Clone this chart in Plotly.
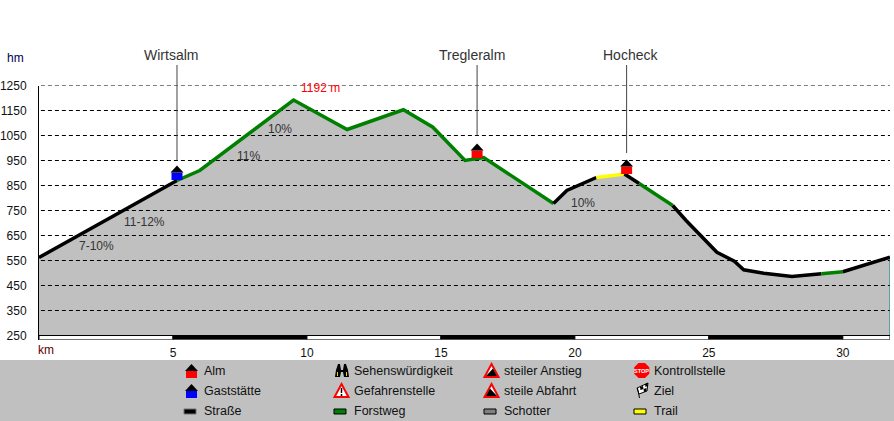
import plotly.graph_objects as go

W, H = 894, 421

# hoehenprofil
km = [0, 5.15, 6.0, 9.5, 11.5, 13.6, 14.7, 15.9, 16.6, 19.2, 19.7, 20.8, 21.85,
      22.4, 23.65, 24.15, 25.3, 25.95, 26.3, 27.05, 28.1, 29.2, 30.0, 31.76]
elev = [562, 870, 910, 1192, 1074, 1153, 1083, 950, 962, 778, 830, 882, 896,
        858, 770, 710, 583, 547, 513, 499, 486, 497, 505, 563]

# belag: von index, bis index, art
surface_from = [0, 1, 9, 11, 12, 13, 14, 21, 22]
surface_to = [1, 9, 11, 12, 13, 14, 21, 22, 23]
surface_kind = ["Straße", "Forstweg", "Straße", "Trail", "Straße", "Forstweg", "Straße", "Forstweg", "Straße"]
surface_colors = {"Straße": "#000000", "Forstweg": "#008000", "Schotter": "#808080", "Trail": "#FFFF00"}

y_ticks = [250, 350, 450, 550, 650, 750, 850, 950, 1050, 1150, 1250]
x_ticks = [5, 10, 15, 20, 25, 30]
band_edges = [0, 5, 10, 15, 20, 25, 30, 31.76]

hut_names = ["Wirtsalm", "Tregleralm", "Hocheck"]
hut_km = [5.15, 16.35, 21.93]
hut_elev = [872, 960, 896]
hut_colors = ["#0000FF", "#FF0000", "#FF0000"]

grade_labels = ["7-10%", "11-12%", "11%", "10%", "10%"]
grade_km = [2.15, 3.95, 7.8, 9.0, 20.3]
grade_elev = [610, 706, 970, 1078, 782]

legend_col1 = ["Alm", "Gaststätte", "Straße"]
legend_col2 = ["Sehenswürdigkeit", "Gefahrenstelle", "Forstweg"]
legend_col3 = ["steiler Anstieg", "steile Abfahrt", "Schotter"]
legend_col4 = ["Kontrollstelle", "Ziel", "Trail"]


def px(x):
    return x / W


def py(y):
    return 1 - y / H


def poly(points):
    return "M " + " L ".join(f"{px(x):.5f} {py(y):.5f}" for x, y in points) + " Z"


def icon(points, fill, line=None, width=1):
    return dict(type="path", xref="paper", yref="paper", path=poly(points), fillcolor=fill,
                line=dict(color=line or fill, width=width if line else 0), layer="above")


fig = go.Figure()

# flaeche
fig.add_trace(go.Scatter(x=km, y=elev, mode="lines", fill="tozeroy", fillcolor="#C0C0C0",
                         line=dict(width=0), hoverinfo="skip", showlegend=False))

# gitterlinien
gx, gy = [], []
for v in y_ticks[1:]:
    gx += [-0.19, km[-1], None]
    gy += [v, v, None]
fig.add_trace(go.Scatter(x=gx, y=gy, mode="lines", cliponaxis=False, showlegend=False, hoverinfo="skip",
                         line=dict(color="#000000", width=1, dash="4px,3px")))

# rechter rand
fig.add_trace(go.Scatter(x=[km[-1], km[-1]], y=[y_ticks[0], elev[-1]], mode="lines", showlegend=False,
                         hoverinfo="skip", line=dict(color="#008080", width=1)))

for a, b, kind in zip(surface_from, surface_to, surface_kind):
    fig.add_trace(go.Scatter(x=km[a:b + 1], y=elev[a:b + 1], mode="lines", showlegend=False, hoverinfo="skip",
                             line=dict(color=surface_colors[kind], width=3.5, shape="linear")))

shapes = []

# km balken
for i in range(len(band_edges) - 1):
    shapes.append(dict(type="rect", xref="x", yref="y", x0=band_edges[i], x1=band_edges[i + 1],
                       y0=234, y1=y_ticks[0], fillcolor="#000000" if i % 2 else "#FFFFFF",
                       line=dict(color="#000000", width=1), layer="above"))

# huetten + linien
leader_top = [65, 65, 65]
leader_bottom = [950, 1050, 980]
for i, name in enumerate(hut_names):
    shapes.append(dict(type="path", xref="x", yref="y", xsizemode="pixel", ysizemode="pixel",
                       xanchor=hut_km[i], yanchor=hut_elev[i],
                       path="M -5.5 0 L 5.5 0 L 5.5 7.5 L -5.5 7.5 Z", fillcolor=hut_colors[i],
                       line=dict(width=0), layer="above"))
    shapes.append(dict(type="path", xref="x", yref="y", xsizemode="pixel", ysizemode="pixel",
                       xanchor=hut_km[i], yanchor=hut_elev[i],
                       path="M -6.5 7.5 L 6.5 7.5 L 0 14.5 Z", fillcolor="#000000",
                       line=dict(width=0), layer="above"))
    shapes.append(dict(type="line", xref="x", yref="paper", x0=hut_km[i], x1=hut_km[i],
                       y0=(leader_bottom[i] - 234) / (1250 - 234) * (254 / H) + (1 - 339.5 / H),
                       y1=py(leader_top[i]), line=dict(color="#444444", width=1), layer="above"))

# legende hintergrund
shapes.append(dict(type="rect", xref="paper", yref="paper", x0=0, x1=1, y0=0, y1=py(360),
                   fillcolor="#C0C0C0", line=dict(width=0), layer="below"))

# legende symbole
for row, col in ((371, "#FF0000"), (391, "#0000FF")):
    shapes.append(icon([(186, row), (197, row), (197, row + 7), (186, row + 7)], col))
    shapes.append(icon([(185, row), (191.5, row - 7), (198, row)], "#000000"))

for x0, kind, y0 in ((184, "Straße", 409), (334, "Forstweg", 409), (484, "Schotter", 409), (634, "Trail", 409)):
    edge = "#707070" if kind == "Straße" else "#000000"
    shapes.append(icon([(x0, y0), (x0 + 12, y0), (x0 + 12, y0 + 5), (x0, y0 + 5)],
                       surface_colors[kind], edge, 1))

# fernglas
shapes.append(icon([(335, 377), (336, 370), (338, 364), (340, 364), (341, 370), (343, 370), (344, 364), (346, 364),
                    (348, 370), (349, 377), (344, 377), (343, 372), (341, 372), (340, 377)], "#000000"))
shapes.append(icon([(337, 372), (338, 372), (338, 376), (337, 376)], "#E8D800"))
shapes.append(icon([(346, 372), (347, 372), (347, 376), (346, 376)], "#E8D800"))

# gefahrenstelle
shapes.append(icon([(341.5, 384), (348.5, 397), (334.5, 397)], "#FFFFFF", "#FF0000", 2))
shapes.append(icon([(340.7, 388), (342.3, 388), (342.2, 393), (340.8, 393)], "#000000"))
shapes.append(icon([(340.7, 394), (342.3, 394), (342.3, 396), (340.7, 396)], "#000000"))

# anstieg / abfahrt
shapes.append(icon([(491.5, 364), (498.5, 377), (484.5, 377)], "#FFFFFF", "#FF0000", 2))
shapes.append(icon([(493, 368.5), (497, 376), (486, 376)], "#000000"))
shapes.append(icon([(491.5, 384), (498.5, 397), (484.5, 397)], "#FFFFFF", "#FF0000", 2))
shapes.append(icon([(490, 388.5), (497, 396), (486, 396)], "#000000"))

# stop
shapes.append(icon([(638.5, 363), (645, 363), (649.3, 367.3), (649.3, 373.7), (645, 378), (638.5, 378),
                    (634.2, 373.7), (634.2, 367.3)], "#FF0000"))

# ziel
shapes.append(icon([(637, 388), (648, 383), (647, 391), (639, 394)], "#FFFFFF", "#000000", 1))
shapes.append(icon([(637, 388), (639, 398), (640, 398), (638, 388)], "#000000"))
shapes.append(icon([(640, 387), (643, 386), (643.5, 389), (640.5, 390)], "#000000"))
shapes.append(icon([(643.5, 389), (646.5, 388), (646.5, 391), (644, 392)], "#000000"))
shapes.append(icon([(645, 384), (648, 383), (647.5, 386), (645.5, 387)], "#000000"))

annotations = []


def label(x, y, text, size=12, color="#111111", anchor="left", **kw):
    annotations.append(dict(x=px(x), y=py(y), xref="paper", yref="paper", text=text, showarrow=False,
                            xanchor=anchor, yanchor="middle", borderpad=0, borderwidth=0,
                            font=dict(size=size, color=color), **kw))


label(7, 58, "hm", color="#000050")
label(38, 350, "km", color="#600000")
label(320, 88, "1192 m", color="#FF0000", anchor="center")

for name, cx in zip(hut_names, [171, 472, 630]):
    label(cx, 55, name, size=14, color="#333333", anchor="center")

for text, gk, ge in zip(grade_labels, grade_km, grade_elev):
    annotations.append(dict(x=gk, y=ge, text=text, showarrow=False, font=dict(size=12, color="#333333")))

rows = [371, 391, 411]
for col, x0 in ((legend_col1, 204), (legend_col2, 354), (legend_col3, 504), (legend_col4, 654)):
    for text, row in zip(col, rows):
        label(x0, row, text, size=12.5)

label(641.7, 370.5, "<b>STOP</b>", size=5.5, color="#FFFFFF", anchor="center")

fig.update_layout(
    width=W, height=H,
    autosize=False,
    margin=dict(l=0, r=0, t=0, b=0, autoexpand=False),
    paper_bgcolor="#FFFFFF",
    plot_bgcolor="#FFFFFF",
    font=dict(family="Liberation Sans, Arial, sans-serif", size=12, color="#111111"),
    shapes=shapes,
    annotations=annotations,
    xaxis=dict(domain=[39 / W, 890 / W], range=[0, km[-1]], tickvals=x_ticks, showgrid=False, zeroline=False,
               showline=False, ticks="", ticklabelstandoff=4),
    yaxis=dict(domain=[1 - 339.5 / H, 1 - 85.5 / H], range=[234, 1250], tickvals=y_ticks, showgrid=False, zeroline=False,
               showline=True, linecolor="#000000", linewidth=1, ticks="", ticklabelstandoff=9),
)

fig.write_html("out.html", config={"displayModeBar": False},
               post_script="document.body.style.margin='0';document.body.style.overflow='hidden';")
